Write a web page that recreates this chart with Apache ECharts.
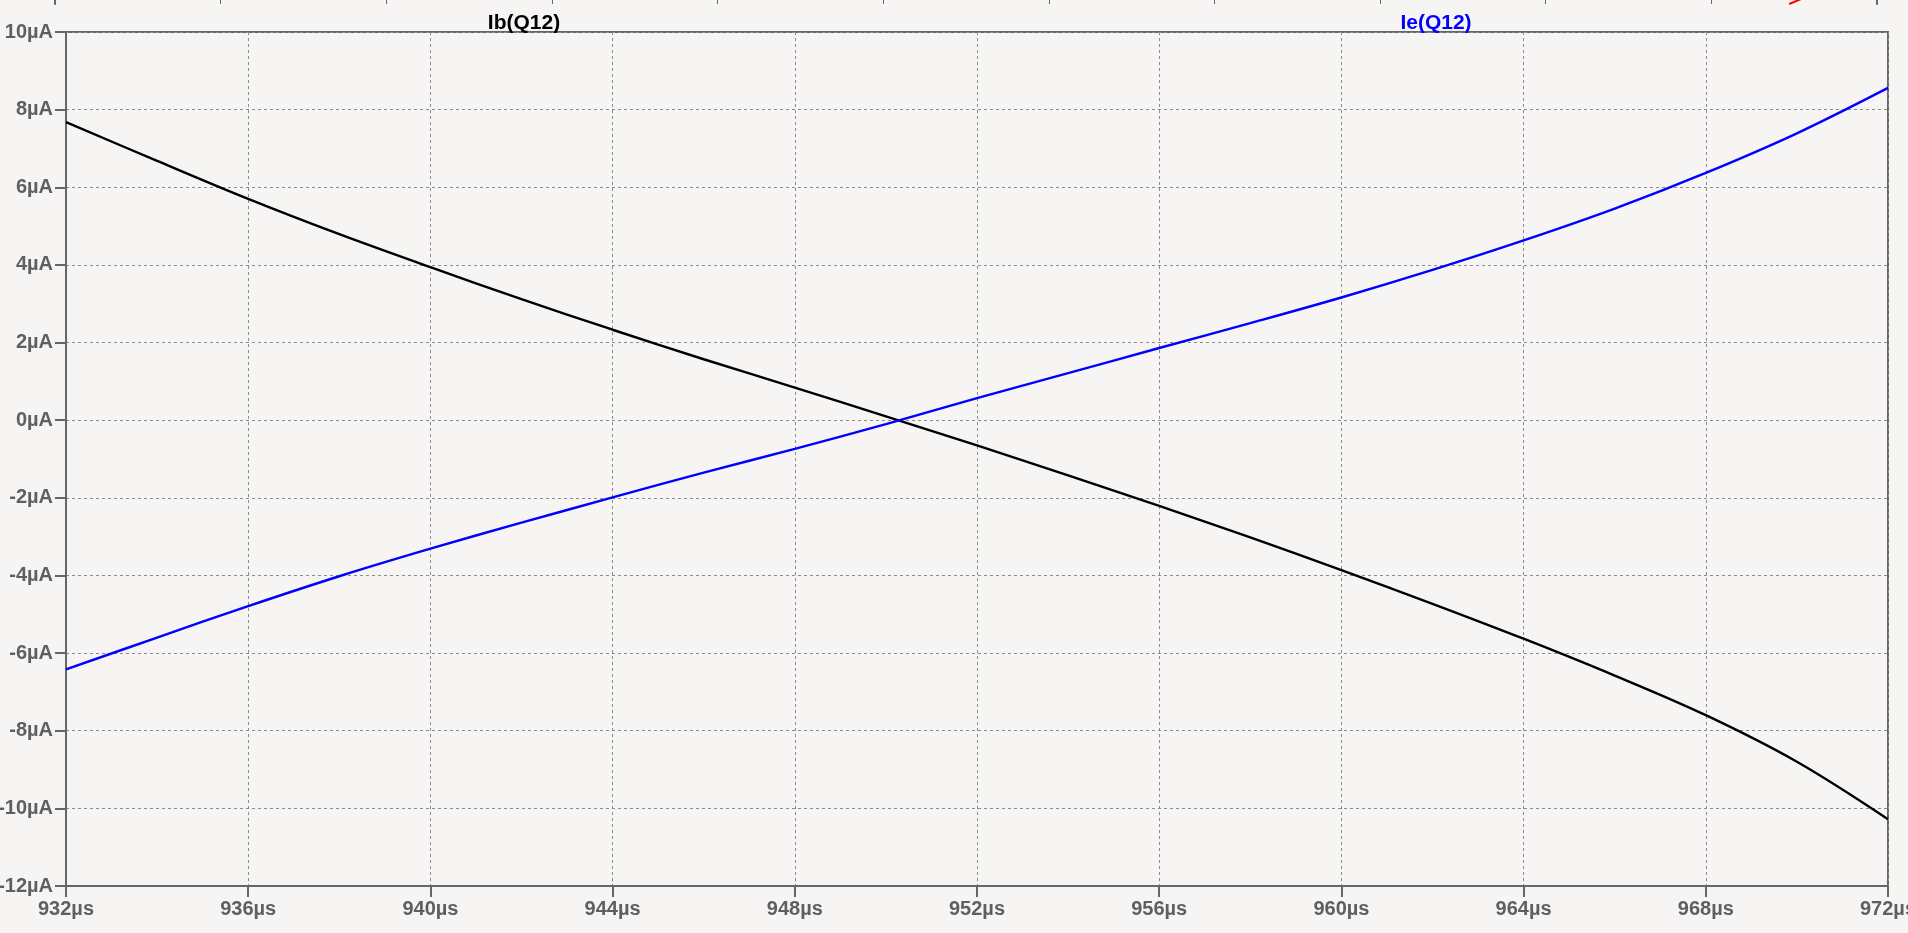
<!DOCTYPE html>
<html>
<head>
<meta charset="utf-8">
<script src="https://cdn.jsdelivr.net/npm/echarts@6/dist/echarts.min.js"></script>
<style>
html,body{margin:0;padding:0;background:#f6f5f3;}
#chart{width:1908px;height:933px;}
</style>
</head>
<body>
<div id="chart"></div>
<script>
// time in µs
const timeUs = [932,934,936,938,940,942,944,946,948,950,952,954,956,958,960,962,964,966,968,970,972];
// Ib(Q12) in µA
const ibQ12 = [7.68,6.68,5.70,4.79,3.94,3.12,2.33,1.57,0.84,0.10,-0.65,-1.42,-2.21,-3.02,-3.86,-4.73,-5.63,-6.58,-7.60,-8.80,-10.28];
// Ie(Q12) in µA
const ieQ12 = [-6.42,-5.60,-4.79,-4.02,-3.31,-2.64,-1.99,-1.35,-0.74,-0.10,0.57,1.21,1.86,2.50,3.16,3.87,4.63,5.45,6.37,7.39,8.56];
// partial trace of the pane above (cut off at the top edge)
const upperX = [10.47,10.60];
const upperY = [0.0,0.167];

const yMin = -12, yMax = 10, yStep = 2;
const xMin = 932, xMax = 972, xStep = 4;

const axisColor = '#666666';
const labelColor = '#5f5f63';
const fontFam = 'Liberation Sans, Arial, sans-serif';
const labelFont = {fontFamily:fontFam, fontWeight:'bold', fontSize:20, color:labelColor};

const chart = echarts.init(document.getElementById('chart'), null, {renderer:'canvas'});
chart.setOption({
  backgroundColor:'#f6f5f3',
  animation:false,
  title:[
    {text:'Ib(Q12)', left:519, top:8, textAlign:'center',
     textStyle:{fontFamily:fontFam, fontWeight:'bold', fontSize:21, color:'#000000'}},
    {text:'Ie(Q12)', left:1431, top:8, textAlign:'center',
     textStyle:{fontFamily:fontFam, fontWeight:'bold', fontSize:21, color:'#0000ff'}}
  ],
  grid:[
    {left:66, right:20, top:32, bottom:47, show:true, borderColor:axisColor, borderWidth:2,
     backgroundColor:'transparent', containLabel:false, outerBoundsMode:'none'},
    {left:55, right:31, top:-50, height:54, show:false, containLabel:false, outerBoundsMode:'none'}
  ],
  xAxis:[
    {type:'value', gridIndex:0, min:xMin, max:xMax, interval:xStep,
     axisLine:{show:true, onZero:false, lineStyle:{color:axisColor, width:2}},
     axisTick:{show:true, length:11, lineStyle:{color:axisColor, width:2}},
     axisLabel:{...labelFont, margin:13, formatter:v=>v+'µs'},
     splitLine:{show:true, lineStyle:{color:'#8c8c8c', type:[3,3], width:1}}},
    {type:'value', gridIndex:1, min:0, max:11, interval:1,
     axisLine:{show:false, onZero:false},
     axisTick:{show:true, inside:true, length:4, lineStyle:{color:axisColor, width:1}},
     axisLabel:{show:false}, splitLine:{show:false}}
  ],
  yAxis:[
    {type:'value', gridIndex:0, min:yMin, max:yMax, interval:yStep,
     axisLine:{show:true, onZero:false, lineStyle:{color:axisColor, width:2}},
     axisTick:{show:true, length:11, lineStyle:{color:axisColor, width:2}},
     axisLabel:{...labelFont, margin:13, formatter:v=>v+'µA'},
     splitLine:{show:true, lineStyle:{color:'#8c8c8c', type:[3,3], width:1}}},
    {type:'value', gridIndex:1, min:0, max:1, position:'left',
     axisLine:{show:true, onZero:false, lineStyle:{color:axisColor, width:2}},
     axisTick:{show:false}, axisLabel:{show:false}, splitLine:{show:false}},
    {type:'value', gridIndex:1, min:0, max:1, position:'right',
     axisLine:{show:true, onZero:false, lineStyle:{color:axisColor, width:2}},
     axisTick:{show:false}, axisLabel:{show:false}, splitLine:{show:false}}
  ],
  series:[
    {name:'Ib(Q12)', type:'line', xAxisIndex:0, yAxisIndex:0, showSymbol:false, smooth:0.35,
     data:timeUs.map((t,i)=>[t, ibQ12[i]]), lineStyle:{color:'#000000', width:2.4}, itemStyle:{color:'#000000'}},
    {name:'Ie(Q12)', type:'line', xAxisIndex:0, yAxisIndex:0, showSymbol:false, smooth:0.35,
     data:timeUs.map((t,i)=>[t, ieQ12[i]]), lineStyle:{color:'#0000ff', width:2.4}, itemStyle:{color:'#0000ff'}},
    {name:'upper', type:'line', xAxisIndex:1, yAxisIndex:1, showSymbol:false,
     data:upperX.map((x,i)=>[x, upperY[i]]), lineStyle:{color:'#ff0000', width:2}, itemStyle:{color:'#ff0000'}}
  ]
});
</script>
</body>
</html>
